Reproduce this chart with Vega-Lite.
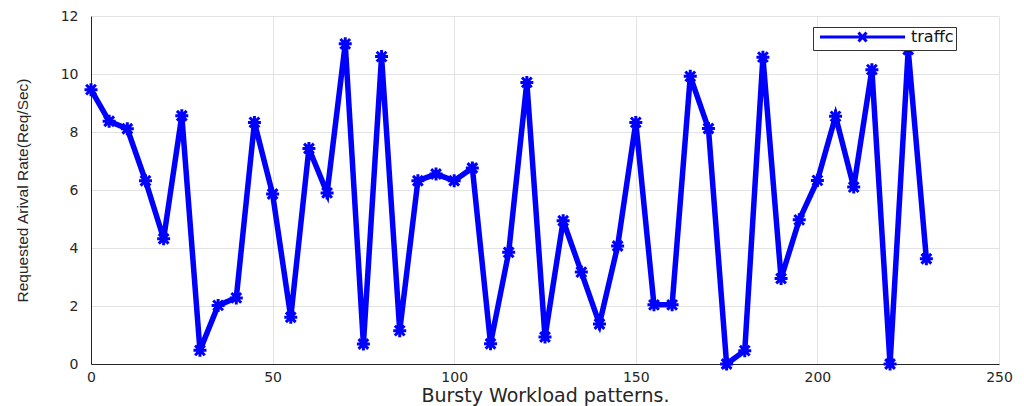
{
  "$schema": "https://vega.github.io/schema/vega-lite/v6.json",
  "width": 908,
  "height": 348,
  "autosize": {"type": "none"},
  "padding": {"left": 91, "top": 16, "right": 25, "bottom": 42},
  "background": "white",
  "config": {
    "view": {"stroke": null},
    "axis": {
      "gridColor": "#e3e3e3",
      "gridWidth": 1,
      "domainColor": "#262626",
      "domainWidth": 1,
      "ticks": false,
      "labelColor": "#262626",
      "labelFont": "DejaVu Sans",
      "labelFontSize": 14,
      "titleColor": "#262626",
      "titleFontWeight": "normal"
    },
    "legend": {
      "orient": "none",
      "legendX": 722,
      "legendY": 11,
      "padding": 2,
      "strokeColor": "#333333",
      "fillColor": "white",
      "labelFont": "DejaVu Sans",
      "labelFontSize": 16,
      "labelColor": "#111111",
      "labelOffset": 80,
      "symbolType": "M-0.6,0H16.4M7.1,-0.9L8.7,0.9M7.1,0.9L8.7,-0.9",
      "symbolSize": 100,
      "symbolStrokeWidth": 3,
      "symbolStrokeColor": "#0000ff",
      "symbolFillColor": "transparent"
    }
  },
  "data": {
    "values": [
      {"x": 0, "y": 9.46}, {"x": 5, "y": 8.37}, {"x": 10, "y": 8.11}, {"x": 15, "y": 6.32},
      {"x": 20, "y": 4.32}, {"x": 25, "y": 8.56}, {"x": 30, "y": 0.47}, {"x": 35, "y": 2.02},
      {"x": 40, "y": 2.28}, {"x": 45, "y": 8.33}, {"x": 50, "y": 5.86}, {"x": 55, "y": 1.61},
      {"x": 60, "y": 7.43}, {"x": 65, "y": 5.9}, {"x": 70, "y": 11.04}, {"x": 75, "y": 0.69},
      {"x": 80, "y": 10.6}, {"x": 85, "y": 1.15}, {"x": 90, "y": 6.32}, {"x": 95, "y": 6.55},
      {"x": 100, "y": 6.32}, {"x": 105, "y": 6.76}, {"x": 110, "y": 0.7}, {"x": 115, "y": 3.85},
      {"x": 120, "y": 9.71}, {"x": 125, "y": 0.93}, {"x": 130, "y": 4.94}, {"x": 135, "y": 3.17},
      {"x": 140, "y": 1.38}, {"x": 145, "y": 4.07}, {"x": 150, "y": 8.33}, {"x": 155, "y": 2.04},
      {"x": 160, "y": 2.04}, {"x": 165, "y": 9.92}, {"x": 170, "y": 8.12}, {"x": 175, "y": 0.0},
      {"x": 180, "y": 0.46}, {"x": 185, "y": 10.58}, {"x": 190, "y": 2.95}, {"x": 195, "y": 4.97},
      {"x": 200, "y": 6.33}, {"x": 205, "y": 8.54}, {"x": 210, "y": 6.1}, {"x": 215, "y": 10.15},
      {"x": 220, "y": 0.0}, {"x": 225, "y": 10.84}, {"x": 230, "y": 3.63}
    ]
  },
  "encoding": {
    "x": {
      "field": "x",
      "type": "quantitative",
      "scale": {"domain": [0, 250], "nice": false, "zero": false},
      "axis": {
        "values": [0, 50, 100, 150, 200, 250],
        "title": "Bursty Workload patterns.",
        "titleFont": "DejaVu Sans",
        "titleFontSize": 19,
        "titleBaseline": "alphabetic",
        "titleAlign": "center",
        "titleX": 454,
        "titleY": 37,
        "labelPadding": 6,
        "labelFlush": false
      }
    },
    "y": {
      "field": "y",
      "type": "quantitative",
      "scale": {"domain": [0, 12], "nice": false},
      "axis": {
        "values": [0, 2, 4, 6, 8, 10, 12],
        "title": "Requested Arival Rate(Req/Sec)",
        "titleFont": "Liberation Sans",
        "titleFontSize": 15.5,
        "titleAngle": -90,
        "titleBaseline": "alphabetic",
        "titleAlign": "center",
        "titleX": -64,
        "titleY": 174,
        "labelPadding": 13
      }
    },
    "color": {
      "datum": "traffc",
      "type": "nominal",
      "scale": {"range": ["#0000ff"]},
      "legend": {"title": null}
    }
  },
  "layer": [
    {"mark": {"type": "line", "strokeWidth": 5.5, "strokeJoin": "miter"}},
    {
      "mark": {
        "type": "point",
        "shape": "M-1,0H1M0,-1V1M-0.75,-0.75L0.75,0.75M-0.75,0.75L0.75,-0.75",
        "size": 169,
        "strokeWidth": 3,
        "filled": false,
        "opacity": 1
      }
    }
  ]
}
